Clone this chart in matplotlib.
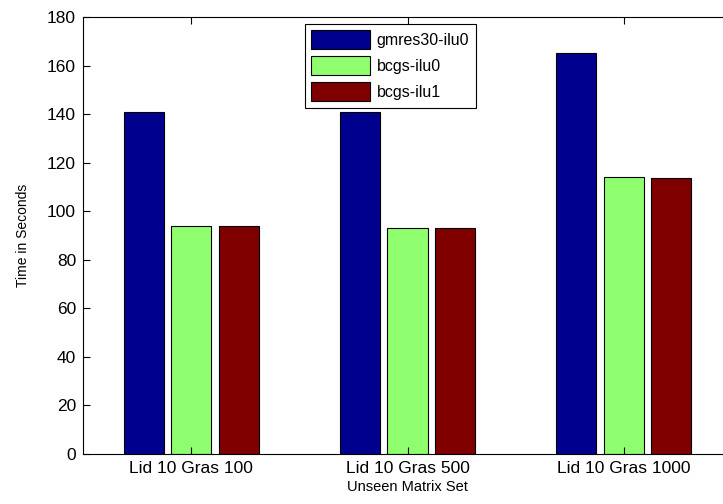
import numpy as np
import matplotlib
matplotlib.use("Agg")
import matplotlib.pyplot as plt

plt.rcParams['font.family'] = ['Liberation Sans', 'DejaVu Sans']

# data
categories = ['Lid 10 Gras 100', 'Lid 10 Gras 500', 'Lid 10 Gras 1000']
series_names = ['gmres30-ilu0', 'bcgs-ilu0', 'bcgs-ilu1']
gmres30_ilu0 = [141, 141, 165]
bcgs_ilu0 = [94, 93, 114]
bcgs_ilu1 = [94, 93, 113.5]
colors = ['#00008F', '#8FFF70', '#800000']

fig = plt.figure(figsize=(7.23, 5.04), dpi=100)
# axes runs slightly past the right edge, like the cropped original
ax = fig.add_axes([83 / 723, 1 - 454 / 504, 649 / 723, 437 / 504])

x = np.arange(1, len(categories) + 1)
width = 0.185
offset = 0.22
for i, (vals, name) in enumerate(zip([gmres30_ilu0, bcgs_ilu0, bcgs_ilu1], series_names)):
    ax.bar(x + (i - 1) * offset, vals, width, color=colors[i],
           edgecolor='black', linewidth=0.8, label=name)

ax.set_xlim(0.5, 3.5)
ax.set_ylim(0, 180)
ax.set_yticks(np.arange(0, 181, 20))
ax.set_xticks(x)
ax.set_xticklabels(categories)
ax.tick_params(direction='in', top=True, right=True, length=5, width=0.8,
               labelsize=12.5, pad=5)
for s in ax.spines.values():
    s.set_linewidth(0.8)

ax.set_xlabel('Unseen Matrix Set', fontsize=10.5, labelpad=3)
ax.set_ylabel('Time in Seconds', fontsize=10, labelpad=12)

leg = ax.legend(loc='upper left', bbox_to_anchor=(0.342, 0.985), fontsize=11.5,
                fancybox=False, framealpha=1, edgecolor='black',
                handlelength=3.7, handleheight=1.5, handletextpad=0.4,
                borderpad=0.4, labelspacing=0.4, borderaxespad=0)
leg.get_frame().set_linewidth(0.8)

fig.savefig('out.png', dpi=100)
